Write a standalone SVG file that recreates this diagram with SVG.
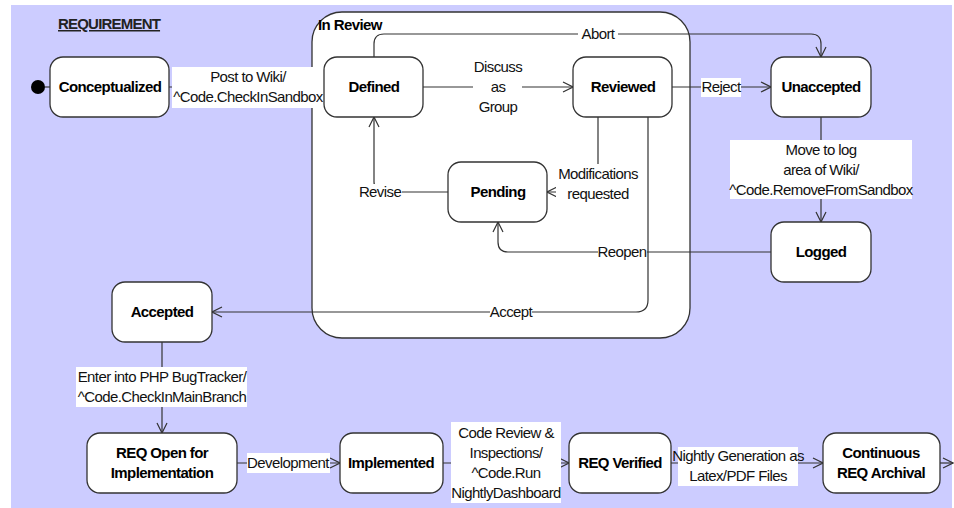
<svg xmlns="http://www.w3.org/2000/svg" width="954" height="508" viewBox="0 0 954 508">
<style>
.bg{fill:#ccccff}
.node{fill:#fff;stroke:#333;stroke-width:1.3}
.nt{font-family:"Liberation Sans",Arial,sans-serif;font-size:15px;font-weight:bold;letter-spacing:-0.6px;fill:#000;text-anchor:middle}
.lt{font-family:"Liberation Sans",Arial,sans-serif;font-size:15px;letter-spacing:-0.6px;fill:#111;text-anchor:middle}
.lbg{fill:#fff}
.edge{fill:none;stroke:#333;stroke-width:1.2}
.title{font-family:"Liberation Sans",Arial,sans-serif;font-size:15px;font-weight:bold;letter-spacing:-0.8px;fill:#222;text-decoration:underline}
</style>
<defs>
<marker id="arr" viewBox="0 0 12 12" refX="11" refY="6" markerWidth="12" markerHeight="12" markerUnits="userSpaceOnUse" orient="auto">
<path d="M1,1 L11,6 L1,11" fill="none" stroke="#333" stroke-width="1.2"/>
</marker>
</defs>
<rect class="bg" x="11" y="5" width="941" height="503"/>
<text class="title" x="58" y="29">REQUIREMENT</text>

<g id="in-review">
<rect class="node" x="312" y="12" width="378" height="326" rx="30"/>
<text class="nt" x="318" y="30" style="text-anchor:start">In Review</text>
</g>

<g id="connectors">
<path class="edge" d="M169,87 H324" marker-end="url(#arr)"/>
<path class="edge" d="M423,87 H573" marker-end="url(#arr)"/>
<path class="edge" d="M374,57 V44 Q374,34 384,34 H811 Q821,34 821,44 V57" marker-end="url(#arr)"/>
<path class="edge" d="M672,87 H771" marker-end="url(#arr)"/>
<path class="edge" d="M821,117 V222" marker-end="url(#arr)"/>
<path class="edge" d="M598,117 V192 H547" marker-end="url(#arr)"/>
<path class="edge" d="M448,192 H384 Q374,192 374,182 V117" marker-end="url(#arr)"/>
<path class="edge" d="M771,252 H508 Q498,252 498,242 V222" marker-end="url(#arr)"/>
<path class="edge" d="M648,117 V300 Q648,312 636,312 H212" marker-end="url(#arr)"/>
<path class="edge" d="M162,342 V433" marker-end="url(#arr)"/>
<path class="edge" d="M237,463 H340" marker-end="url(#arr)"/>
<path class="edge" d="M443,463 H569" marker-end="url(#arr)"/>
<path class="edge" d="M671,463 H823" marker-end="url(#arr)"/>
<path class="edge" d="M940,463 H953" marker-end="url(#arr)"/>

<rect class="lbg" x="172" y="67" width="152" height="41"/>
<text class="lt" x="248" y="82">Post to Wiki/</text>
<text class="lt" x="248" y="102">^Code.CheckInSandbox</text>

<rect class="lbg" x="473" y="66" width="49" height="62"/>
<text class="lt" x="498" y="72">Discuss</text>
<text class="lt" x="498" y="92">as</text>
<text class="lt" x="498" y="112">Group</text>

<rect class="lbg" x="578" y="26" width="40" height="16"/>
<text class="lt" x="598" y="39">Abort</text>

<rect class="lbg" x="701" y="78" width="40" height="19"/>
<text class="lt" x="721" y="92">Reject</text>

<rect class="lbg" x="730" y="140" width="182" height="59"/>
<text class="lt" x="821" y="155">Move to log</text>
<text class="lt" x="821" y="175">area of Wiki/</text>
<text class="lt" x="821" y="195">^Code.RemoveFromSandbox</text>

<rect class="lbg" x="556" y="164" width="84" height="40"/>
<text class="lt" x="598" y="179">Modifications</text>
<text class="lt" x="598" y="199">requested</text>

<rect class="lbg" x="359" y="184" width="43" height="16"/>
<text class="lt" x="380" y="197">Revise</text>

<rect class="lbg" x="598" y="244" width="49" height="16"/>
<text class="lt" x="622" y="257">Reopen</text>

<rect class="lbg" x="490" y="304" width="42" height="16"/>
<text class="lt" x="511" y="317">Accept</text>

<rect class="lbg" x="76" y="367" width="171" height="40"/>
<text class="lt" x="162" y="382">Enter into PHP BugTracker/</text>
<text class="lt" x="162" y="402">^Code.CheckInMainBranch</text>

<rect class="lbg" x="247" y="453" width="83" height="20"/>
<text class="lt" x="288" y="468">Development</text>

<rect class="lbg" x="451" y="422" width="110" height="81"/>
<text class="lt" x="506" y="438">Code Review &amp;</text>
<text class="lt" x="506" y="458">Inspections/</text>
<text class="lt" x="506" y="478">^Code.Run</text>
<text class="lt" x="506" y="498">NightlyDashboard</text>

<rect class="lbg" x="678" y="447" width="120" height="39"/>
<text class="lt" x="738" y="461">Nightly Generation as</text>
<text class="lt" x="738" y="481">Latex/PDF Files</text>
</g>

<g id="initial"><circle cx="38" cy="87" r="7" fill="#000"/><path class="edge" d="M45,87 H50"/></g>
<g id="conceptualized"><rect class="node" x="50" y="57" width="119" height="60" rx="13"/><text class="nt" x="110" y="92">Conceptualized</text></g>
<g id="defined"><rect class="node" x="324" y="57" width="99" height="60" rx="13"/><text class="nt" x="374" y="92">Defined</text></g>
<g id="reviewed"><rect class="node" x="573" y="57" width="99" height="60" rx="13"/><text class="nt" x="623" y="92">Reviewed</text></g>
<g id="unaccepted"><rect class="node" x="771" y="57" width="100" height="60" rx="13"/><text class="nt" x="821" y="92">Unaccepted</text></g>
<g id="pending"><rect class="node" x="448" y="162" width="99" height="60" rx="13"/><text class="nt" x="498" y="197">Pending</text></g>
<g id="logged"><rect class="node" x="771" y="222" width="100" height="60" rx="13"/><text class="nt" x="821" y="257">Logged</text></g>
<g id="accepted"><rect class="node" x="112" y="282" width="100" height="60" rx="13"/><text class="nt" x="162" y="317">Accepted</text></g>
<g id="req-open"><rect class="node" x="87" y="433" width="150" height="60" rx="13"/><text class="nt" x="162" y="458">REQ Open for</text><text class="nt" x="162" y="478">Implementation</text></g>
<g id="implemented"><rect class="node" x="340" y="433" width="103" height="60" rx="13"/><text class="nt" x="391" y="468">Implemented</text></g>
<g id="req-verified"><rect class="node" x="569" y="433" width="102" height="60" rx="13"/><text class="nt" x="620" y="468">REQ Verified</text></g>
<g id="continuous"><rect class="node" x="823" y="433" width="117" height="60" rx="13"/><text class="nt" x="881" y="458">Continuous</text><text class="nt" x="881" y="478">REQ Archival</text></g>
</svg>
